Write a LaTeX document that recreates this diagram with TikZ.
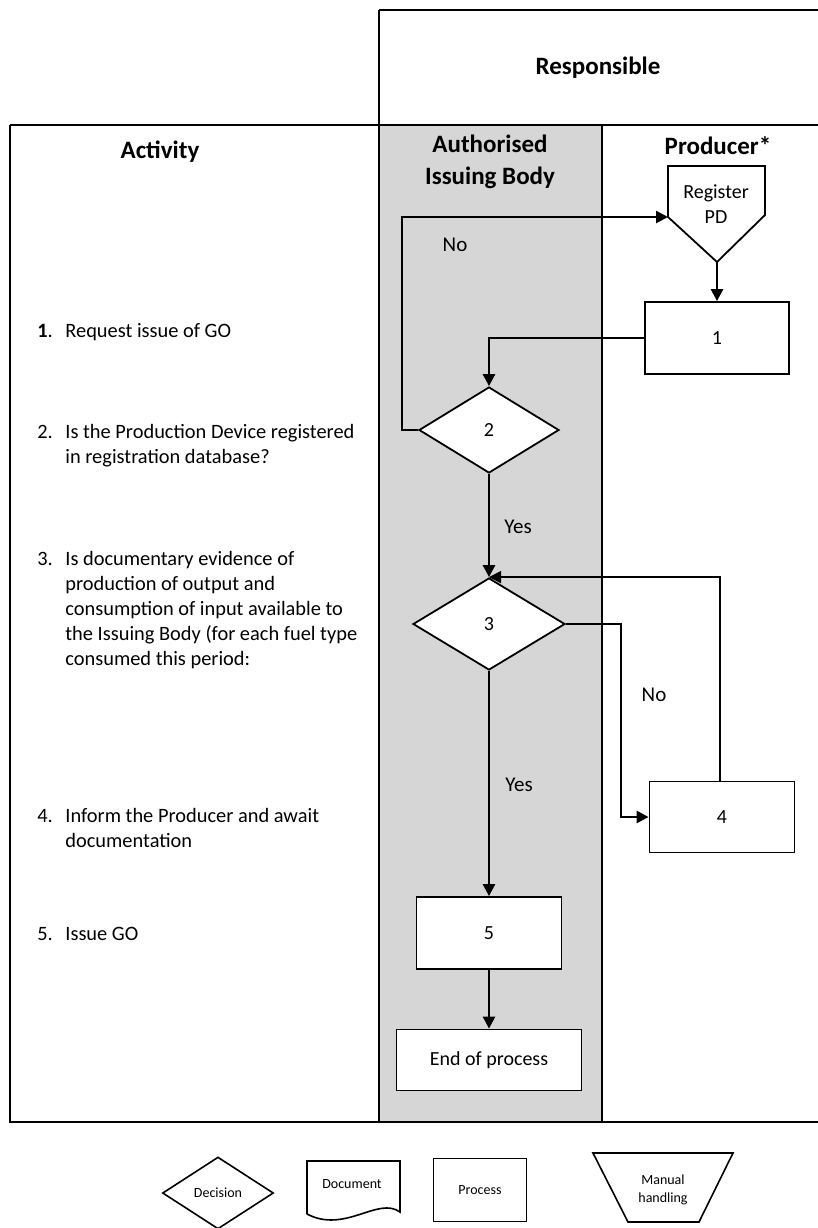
\documentclass[tikz,border=0pt]{standalone}
\usepackage{fontspec}
\setmainfont{Carlito}
\usetikzlibrary{shapes.geometric,arrows.meta}
\tikzset{
  frame/.style={line width=1.1pt},
  shade/.style={fill=black!16},
  head/.style={font=\fontsize{12.5}{16}\selectfont\bfseries, align=center, inner sep=0pt},
  acttext/.style={anchor=base west, inner sep=0pt, font=\fontsize{10.2}{12.5}\selectfont},
  box/.style={draw, rectangle, line width=0.9pt, fill=white, inner sep=0pt, font=\fontsize{10}{12}\selectfont},
  dec/.style={draw, diamond, line width=0.9pt, fill=white, inner sep=0pt, font=\fontsize{10}{12}\selectfont},
  arr/.style={line width=1.3pt, -{Triangle[length=6pt,width=6pt]}},
  thinarr/.style={line width=0.8pt, -{Triangle[length=6pt,width=6pt]}},
  lbl/.style={inner sep=0pt, font=\fontsize{10.5}{12}\selectfont},
  leg/.style={line width=0.8pt},
  legtxt/.style={inner sep=0pt, align=center, font=\fontsize{7}{9}\selectfont}
}
\newcommand{\actitem}[2]{\begin{tabular}[t]{@{}p{14pt}@{}l@{}}#1 & #2\end{tabular}}
\begin{document}
\begin{tikzpicture}[x=0.5pt,y=-0.5pt]
\useasboundingbox (0,0) rectangle (818,1228);
% shaded column
\fill[shade] (379,125) rectangle (602,1122);
% frame
\draw[frame] (379,10) -- (818,10);
\draw[frame] (379,10) -- (379,1122);
\draw[frame] (10,125) -- (818,125);
\draw[frame] (10,125) -- (10,1122) -- (818,1122);
\draw[frame] (602,125) -- (602,1122);
% headers
\node[head] (hresp) at (598,68) {Responsible};
\node[head] (hact) at (160,152) {Activity};
\node[head] (hauth) at (490,162) {Authorised\\Issuing Body};
\node[head] (hprod) at (718,146) {Producer*};
% activity texts
\node[acttext] (a1) at (37,337) {\actitem{\textbf{1}.}{Request issue of GO}};
\node[acttext] (a2) at (37,438) {\actitem{2.}{Is the Production Device registered\\ & in registration database?}};
\node[acttext] (a3) at (37,565) {\actitem{3.}{Is documentary evidence of\\ & production of output and\\ & consumption of input available to\\ & the Issuing Body (for each fuel type\\ & consumed this period:}};
\node[acttext] (a4) at (37,822) {\actitem{4.}{Inform the Producer and await\\ & documentation}};
\node[acttext] (a5) at (37,940) {\actitem{5.}{Issue GO}};
% Register PD (off-page shape)
\coordinate (regL) at (668,217);
\coordinate (regB) at (717,262);
\draw[line width=0.9pt, fill=white] (regL) -- (668,166) -- (765,166) -- (765,215) -- (regB) -- cycle;
\node[inner sep=0pt, align=center, font=\fontsize{10}{12.5}\selectfont] (reg) at (716,204) {Register\\PD};
% process boxes and decisions
\node[box, minimum width=72pt, minimum height=36pt] (b1) at (717,338) {1};
\node[dec, minimum width=70pt, minimum height=43pt] (d2) at (489,430) {2};
\node[dec, minimum width=76pt, minimum height=46pt] (d3) at (489,624) {3};
\node[box, minimum width=72.5pt, minimum height=35.5pt] (b4) at (722,817) {4};
\node[box, minimum width=72.5pt, minimum height=36pt] (b5) at (489,933) {5};
\node[box, minimum width=92.5pt, minimum height=30.5pt] (end) at (489,1060) {End of process};
% connectors
\draw[arr] (regB) -- (b1.north -| regB);
\draw[arr] (b1.west) -| (d2.north);
\coordinate (nob) at (402,430);
\draw[arr] (d2.west) -- (nob) |- (regL);
\node[lbl] (no1) at (455,245) {No};
\draw[arr] (d2.south) -- (d3.north);
\node[lbl] (yes1) at (518,527) {Yes};
\coordinate (n3) at (621,624);
\draw[arr] (d3.east) -- (n3) |- (b4.west);
\node[lbl] (no2) at (654,695) {No};
\draw[thinarr] ([xshift=-1pt]b4.north) |- (d3.north);
\draw[arr] (d3.south) -- (b5.north);
\node[lbl] (yes2) at (519,785) {Yes};
\draw[arr] (b5.south) -- (end.north);
% legend
\node[draw, diamond, leg, inner sep=0pt, minimum width=55.5pt, minimum height=36pt, font=\fontsize{7}{9}\selectfont] (ldec) at (218,1193) {Decision};
\draw[leg] (307,1214) -- (307,1161) -- (400,1161) -- (400,1212) .. controls (378,1196) and (345,1234) .. (307,1214);
\node[legtxt] (ldoc) at (352,1184) {Document};
\node[draw, rectangle, leg, inner sep=0pt, minimum width=46.5pt, minimum height=31.5pt, font=\fontsize{7}{9}\selectfont] (lproc) at (480,1190) {Process};
\draw[leg] (593,1153) -- (733,1153) -- (699,1222) -- (628,1222) -- cycle;
\node[legtxt] (lman) at (663,1190) {Manual\\handling};
\end{tikzpicture}
\end{document}
